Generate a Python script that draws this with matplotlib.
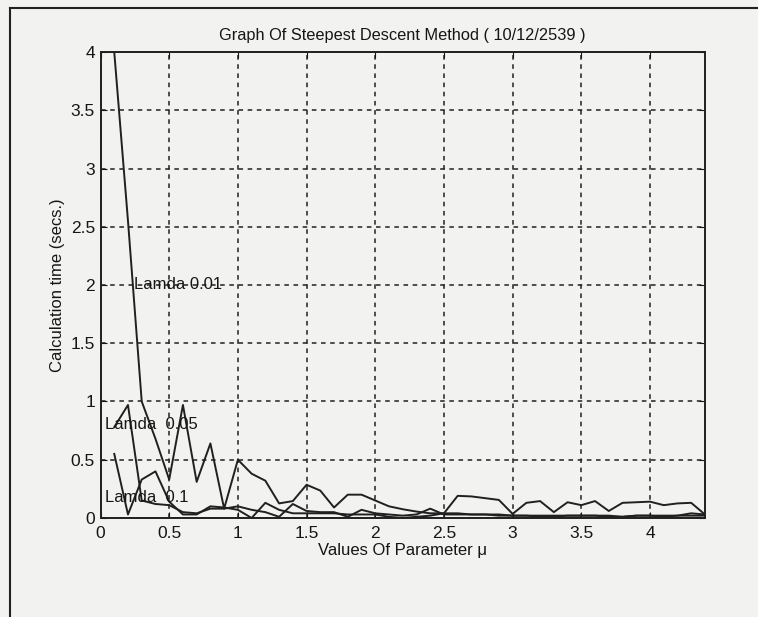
import matplotlib
matplotlib.use("Agg")
import matplotlib.pyplot as plt
from matplotlib.lines import Line2D

plt.rcParams['font.family'] = ['Liberation Sans', 'DejaVu Sans']

# values of mu (0.1 .. 4.4)
mu = [0.1, 0.2, 0.3, 0.4, 0.5, 0.6, 0.7, 0.8, 0.9, 1.0,
      1.1, 1.2, 1.3, 1.4, 1.5, 1.6, 1.7, 1.8, 1.9, 2.0,
      2.1, 2.2, 2.3, 2.4, 2.5, 2.6, 2.7, 2.8, 2.9, 3.0,
      3.1, 3.2, 3.3, 3.4, 3.5, 3.6, 3.7, 3.8, 3.9, 4.0,
      4.1, 4.2, 4.3, 4.4]

# calculation time (secs.) for each lambda
lamda_001 = [4.0, 2.55, 1.0, 0.68, 0.33, 0.97, 0.31, 0.64, 0.08, 0.50,
             0.38, 0.32, 0.125, 0.145, 0.285, 0.235, 0.09, 0.20, 0.20, 0.15,
             0.10, 0.075, 0.055, 0.04, 0.04, 0.19, 0.185, 0.17, 0.155, 0.035,
             0.13, 0.145, 0.05, 0.135, 0.11, 0.145, 0.06, 0.13, 0.135, 0.14,
             0.11, 0.125, 0.13, 0.03]
lamda_005 = [0.78, 0.97, 0.15, 0.12, 0.11, 0.05, 0.04, 0.08, 0.08, 0.10,
             0.07, 0.05, 0.01, 0.12, 0.06, 0.05, 0.05, 0.01, 0.07, 0.04,
             0.03, 0.02, 0.03, 0.08, 0.03, 0.03, 0.03, 0.03, 0.02, 0.02,
             0.02, 0.01, 0.01, 0.02, 0.02, 0.02, 0.02, 0.01, 0.02, 0.02,
             0.01, 0.02, 0.02, 0.02]
lamda_01 = [0.55, 0.03, 0.33, 0.40, 0.14, 0.03, 0.03, 0.10, 0.09, 0.07,
            0.0, 0.13, 0.07, 0.04, 0.04, 0.04, 0.04, 0.03, 0.03, 0.03,
            0.01, 0.0, 0.01, 0.02, 0.04, 0.04, 0.03, 0.03, 0.03, 0.02,
            0.02, 0.02, 0.02, 0.02, 0.02, 0.02, 0.01, 0.01, 0.02, 0.02,
            0.02, 0.02, 0.04, 0.03]

labels = ["Lamda 0.01", "Lamda  0.05", "Lamda  0.1"]
label_pos = [(0.245, 2.0), (0.035, 0.80), (0.035, 0.18)]

ink = '#161616'
bg = '#f2f2f0'
fig = plt.figure(figsize=(7.58, 6.17), dpi=100, facecolor=bg)
ax = fig.add_axes([0.1326, 0.1605, 0.7974, 0.7552], facecolor=bg)

for ys in (lamda_001, lamda_005, lamda_01):
    ax.plot(mu, ys, color='#202020', lw=1.4)

for txt, (tx, ty) in zip(labels, label_pos):
    ax.text(tx, ty, txt, fontsize=12, ha='left', va='center', color=ink)

ax.set_xlim(0, 4.4)
ax.set_ylim(0, 4)
ax.set_xticks([0, 0.5, 1, 1.5, 2, 2.5, 3, 3.5, 4])
ax.set_xticklabels(['0', '0.5', '1', '1.5', '2', '2.5', '3', '3.5', '4'])
ax.set_yticks([0, 0.5, 1, 1.5, 2, 2.5, 3, 3.5, 4])
ax.set_yticklabels(['0', '0.5', '1', '1.5', '2', '2.5', '3', '3.5', '4'])
ax.tick_params(direction='in', top=True, right=True, labelsize=12.5,
               colors=ink, length=4)
ax.tick_params(axis='x', pad=6)
ax.tick_params(axis='y', pad=4)
ax.grid(True, color='#202020', linestyle=(0, (3, 3)), linewidth=1.1)
for s in ax.spines.values():
    s.set_linewidth(1.4)
    s.set_color('#202020')

ax.set_title("Graph Of Steepest Descent Method ( 10/12/2539 )",
             fontsize=11.8, color=ink, pad=9)
ax.set_xlabel("Values Of Parameter μ", fontsize=12, color=ink, labelpad=1)
ax.set_ylabel("Calculation time (secs.)", fontsize=12, color=ink, labelpad=4)

# scanned page frame
fig.add_artist(Line2D([10 / 758, 10 / 758], [0, 1 - 8 / 617], color='#222222', lw=1.5))
fig.add_artist(Line2D([10 / 758, 1], [1 - 8 / 617, 1 - 8 / 617], color='#222222', lw=1.5))

fig.savefig("out.png", dpi=100, facecolor=bg)
